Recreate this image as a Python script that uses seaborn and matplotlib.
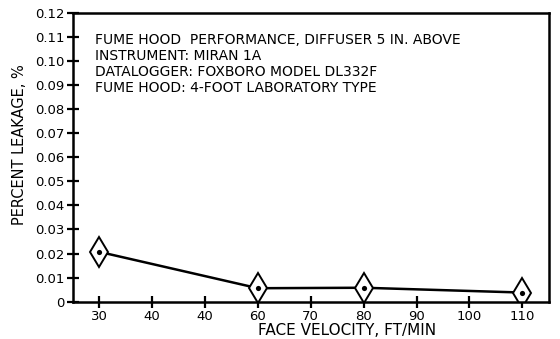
import matplotlib
matplotlib.use("Agg")
import numpy as np
import pandas as pd
import matplotlib.pyplot as plt
import seaborn as sns

# values
velocity = [30, 60, 80, 110]
leakage = [0.0207, 0.0056, 0.0058, 0.0038]

x_ticks = [30, 40, 50, 60, 70, 80, 90, 100, 110]
x_ticklabels = ["30", "40", "40", "60", "70", "80", "90", "100", "110"]  # as printed
y_ticks = [0, 0.01, 0.02, 0.03, 0.04, 0.05, 0.06, 0.07, 0.08, 0.09, 0.10, 0.11, 0.12]
y_ticklabels = ["0", "0.01", "0.02", "0.03", "0.04", "0.05", "0.06", "0.07",
                "0.08", "0.09", "0.10", "0.11", "0.12"]

notes = [
    "FUME HOOD  PERFORMANCE, DIFFUSER 5 IN. ABOVE",
    "INSTRUMENT: MIRAN 1A",
    "DATALOGGER: FOXBORO MODEL DL332F",
    "FUME HOOD: 4-FOOT LABORATORY TYPE",
]

sns.set_style("ticks")
plt.rcParams["font.family"] = ["DejaVu Sans"]
plt.rcParams["text.color"] = "black"
plt.rcParams["axes.labelcolor"] = "black"

df = pd.DataFrame({"velocity": velocity, "leakage": leakage})

fig = plt.figure(figsize=(5.6, 3.39), dpi=100)
ax = fig.add_axes([0.130, 0.110, 0.850, 0.8525])

sns.lineplot(data=df, x="velocity", y="leakage", ax=ax, color="black",
             linewidth=1.8, marker="d", markersize=15, markerfacecolor="white",
             markeredgecolor="black", markeredgewidth=1.4)
sns.scatterplot(data=df, x="velocity", y="leakage", ax=ax, color="black",
                s=14, linewidth=0, zorder=5)

ax.set_xlim(25, 115)
ax.set_ylim(0, 0.12)
ax.set_xticks(x_ticks)
ax.set_xticklabels(x_ticklabels)
ax.set_yticks(y_ticks)
ax.set_yticklabels(y_ticklabels)

ax.tick_params(axis="both", direction="inout", length=8, width=1.6,
               labelsize=9.5, colors="black", pad=2)

for s in ax.spines.values():
    s.set_visible(True)
    s.set_linewidth(1.8)
    s.set_color("black")

ax.set_xlabel("FACE VELOCITY, FT/MIN", fontsize=11, color="black")
ax.set_ylabel("PERCENT LEAKAGE, %", fontsize=10.5, color="black")
ax.xaxis.set_label_coords(0.577, -0.072)
ax.yaxis.set_label_coords(-0.097, 0.542)

for i, line in enumerate(notes):
    ax.text(0.047, 0.93 - i * 0.0555, line, transform=ax.transAxes,
            fontsize=10, va="top", ha="left", color="black")

fig.savefig("out.png", dpi=100)
